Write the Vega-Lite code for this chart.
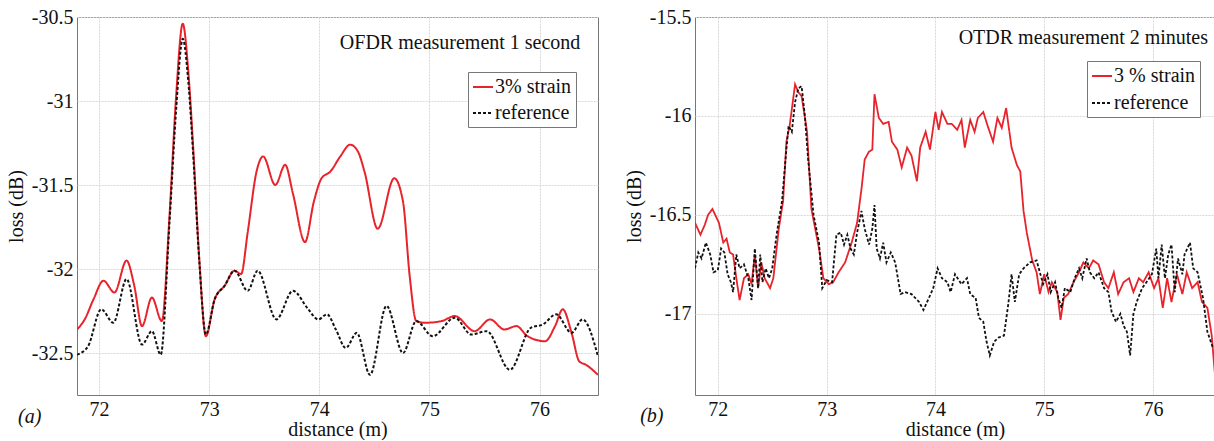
{
  "$schema": "https://vega.github.io/schema/vega-lite/v6.json",
  "padding": {"left": 5, "top": 6, "right": 0, "bottom": 0},
  "background": "white",
  "spacing": 24,
  "resolve": {"scale": {"color": "independent", "strokeDash": "independent", "x": "independent", "y": "independent"}, "legend": {"color": "independent", "strokeDash": "independent"}},
  "config": {
    "view": {"stroke": "#777", "strokeWidth": 1},
    "axis": {"labelFont": "serif", "labelFontSize": 20, "titleFont": "serif", "titleFontSize": 20, "titleFontWeight": "normal", "labelColor": "#111", "titleColor": "#111", "gridColor": "#d8d8d8", "gridDash": [2, 1], "domain": false, "ticks": false},
    "axisY": {"labelPadding": 4, "titlePadding": 5},
    "axisX": {"labelPadding": 4, "titlePadding": 0}
  },
  "datasets": {
    "ofdr": [
      {"d":71.80,"loss":-32.36,"s":"3% strain"},{"d":71.87,"loss":-32.30,"s":"3% strain"},{"d":71.95,"loss":-32.18,"s":"3% strain"},{"d":72.04,"loss":-32.07,"s":"3% strain"},{"d":72.14,"loss":-32.14,"s":"3% strain"},{"d":72.25,"loss":-31.95,"s":"3% strain"},{"d":72.32,"loss":-32.10,"s":"3% strain"},{"d":72.39,"loss":-32.34,"s":"3% strain"},{"d":72.48,"loss":-32.17,"s":"3% strain"},{"d":72.57,"loss":-32.31,"s":"3% strain"},{"d":72.64,"loss":-31.68,"s":"3% strain"},{"d":72.70,"loss":-30.97,"s":"3% strain"},{"d":72.76,"loss":-30.54,"s":"3% strain"},{"d":72.81,"loss":-30.82,"s":"3% strain"},{"d":72.855,"loss":-31.28,"s":"3% strain"},{"d":72.91,"loss":-31.94,"s":"3% strain"},{"d":72.97,"loss":-32.40,"s":"3% strain"},{"d":73.05,"loss":-32.18,"s":"3% strain"},{"d":73.14,"loss":-32.10,"s":"3% strain"},{"d":73.23,"loss":-32.01,"s":"3% strain"},{"d":73.29,"loss":-32.03,"s":"3% strain"},{"d":73.35,"loss":-31.78,"s":"3% strain"},{"d":73.43,"loss":-31.42,"s":"3% strain"},{"d":73.49,"loss":-31.33,"s":"3% strain"},{"d":73.60,"loss":-31.50,"s":"3% strain"},{"d":73.69,"loss":-31.38,"s":"3% strain"},{"d":73.76,"loss":-31.55,"s":"3% strain"},{"d":73.87,"loss":-31.84,"s":"3% strain"},{"d":73.95,"loss":-31.60,"s":"3% strain"},{"d":74.02,"loss":-31.46,"s":"3% strain"},{"d":74.10,"loss":-31.42,"s":"3% strain"},{"d":74.19,"loss":-31.33,"s":"3% strain"},{"d":74.28,"loss":-31.26,"s":"3% strain"},{"d":74.35,"loss":-31.30,"s":"3% strain"},{"d":74.41,"loss":-31.42,"s":"3% strain"},{"d":74.53,"loss":-31.76,"s":"3% strain"},{"d":74.68,"loss":-31.46,"s":"3% strain"},{"d":74.76,"loss":-31.60,"s":"3% strain"},{"d":74.82,"loss":-32.04,"s":"3% strain"},{"d":74.88,"loss":-32.31,"s":"3% strain"},{"d":74.96,"loss":-32.32,"s":"3% strain"},{"d":75.11,"loss":-32.31,"s":"3% strain"},{"d":75.23,"loss":-32.28,"s":"3% strain"},{"d":75.41,"loss":-32.37,"s":"3% strain"},{"d":75.55,"loss":-32.30,"s":"3% strain"},{"d":75.68,"loss":-32.36,"s":"3% strain"},{"d":75.79,"loss":-32.34,"s":"3% strain"},{"d":75.89,"loss":-32.40,"s":"3% strain"},{"d":76.05,"loss":-32.43,"s":"3% strain"},{"d":76.14,"loss":-32.34,"s":"3% strain"},{"d":76.21,"loss":-32.24,"s":"3% strain"},{"d":76.29,"loss":-32.38,"s":"3% strain"},{"d":76.36,"loss":-32.55,"s":"3% strain"},{"d":76.42,"loss":-32.57,"s":"3% strain"},{"d":76.53,"loss":-32.63,"s":"3% strain"},
      {"d":71.80,"loss":-32.51,"s":"reference"},{"d":71.90,"loss":-32.46,"s":"reference"},{"d":72.02,"loss":-32.24,"s":"reference"},{"d":72.13,"loss":-32.32,"s":"reference"},{"d":72.25,"loss":-32.06,"s":"reference"},{"d":72.39,"loss":-32.45,"s":"reference"},{"d":72.48,"loss":-32.37,"s":"reference"},{"d":72.56,"loss":-32.51,"s":"reference"},{"d":72.64,"loss":-31.72,"s":"reference"},{"d":72.70,"loss":-31.05,"s":"reference"},{"d":72.76,"loss":-30.63,"s":"reference"},{"d":72.81,"loss":-30.88,"s":"reference"},{"d":72.855,"loss":-31.32,"s":"reference"},{"d":72.91,"loss":-31.95,"s":"reference"},{"d":72.97,"loss":-32.39,"s":"reference"},{"d":73.05,"loss":-32.18,"s":"reference"},{"d":73.14,"loss":-32.10,"s":"reference"},{"d":73.23,"loss":-32.01,"s":"reference"},{"d":73.35,"loss":-32.13,"s":"reference"},{"d":73.44,"loss":-32.01,"s":"reference"},{"d":73.61,"loss":-32.30,"s":"reference"},{"d":73.76,"loss":-32.13,"s":"reference"},{"d":73.90,"loss":-32.24,"s":"reference"},{"d":73.99,"loss":-32.30,"s":"reference"},{"d":74.07,"loss":-32.27,"s":"reference"},{"d":74.15,"loss":-32.36,"s":"reference"},{"d":74.24,"loss":-32.47,"s":"reference"},{"d":74.34,"loss":-32.38,"s":"reference"},{"d":74.46,"loss":-32.63,"s":"reference"},{"d":74.61,"loss":-32.22,"s":"reference"},{"d":74.76,"loss":-32.50,"s":"reference"},{"d":74.88,"loss":-32.31,"s":"reference"},{"d":75.03,"loss":-32.40,"s":"reference"},{"d":75.23,"loss":-32.29,"s":"reference"},{"d":75.38,"loss":-32.39,"s":"reference"},{"d":75.52,"loss":-32.37,"s":"reference"},{"d":75.73,"loss":-32.60,"s":"reference"},{"d":75.92,"loss":-32.35,"s":"reference"},{"d":76.03,"loss":-32.33,"s":"reference"},{"d":76.15,"loss":-32.27,"s":"reference"},{"d":76.29,"loss":-32.38,"s":"reference"},{"d":76.39,"loss":-32.30,"s":"reference"},{"d":76.53,"loss":-32.52,"s":"reference"}
    ],
    "otdr": [
      {"d":71.79,"loss":-16.54,"s":"3 % strain"},{"d":71.84,"loss":-16.60,"s":"3 % strain"},{"d":71.88,"loss":-16.55,"s":"3 % strain"},{"d":71.91,"loss":-16.50,"s":"3 % strain"},{"d":71.95,"loss":-16.47,"s":"3 % strain"},{"d":72.01,"loss":-16.54,"s":"3 % strain"},{"d":72.05,"loss":-16.64,"s":"3 % strain"},{"d":72.08,"loss":-16.62,"s":"3 % strain"},{"d":72.11,"loss":-16.69,"s":"3 % strain"},{"d":72.14,"loss":-16.70,"s":"3 % strain"},{"d":72.17,"loss":-16.82,"s":"3 % strain"},{"d":72.20,"loss":-16.93,"s":"3 % strain"},{"d":72.24,"loss":-16.82,"s":"3 % strain"},{"d":72.28,"loss":-16.80,"s":"3 % strain"},{"d":72.31,"loss":-16.85,"s":"3 % strain"},{"d":72.34,"loss":-16.70,"s":"3 % strain"},{"d":72.37,"loss":-16.87,"s":"3 % strain"},{"d":72.40,"loss":-16.74,"s":"3 % strain"},{"d":72.43,"loss":-16.82,"s":"3 % strain"},{"d":72.48,"loss":-16.87,"s":"3 % strain"},{"d":72.51,"loss":-16.82,"s":"3 % strain"},{"d":72.56,"loss":-16.57,"s":"3 % strain"},{"d":72.60,"loss":-16.43,"s":"3 % strain"},{"d":72.63,"loss":-16.13,"s":"3 % strain"},{"d":72.66,"loss":-16.05,"s":"3 % strain"},{"d":72.71,"loss":-15.84,"s":"3 % strain"},{"d":72.74,"loss":-15.88,"s":"3 % strain"},{"d":72.77,"loss":-15.90,"s":"3 % strain"},{"d":72.82,"loss":-16.08,"s":"3 % strain"},{"d":72.86,"loss":-16.47,"s":"3 % strain"},{"d":72.93,"loss":-16.67,"s":"3 % strain"},{"d":72.97,"loss":-16.82,"s":"3 % strain"},{"d":73.02,"loss":-16.85,"s":"3 % strain"},{"d":73.06,"loss":-16.84,"s":"3 % strain"},{"d":73.11,"loss":-16.79,"s":"3 % strain"},{"d":73.17,"loss":-16.74,"s":"3 % strain"},{"d":73.23,"loss":-16.64,"s":"3 % strain"},{"d":73.28,"loss":-16.54,"s":"3 % strain"},{"d":73.32,"loss":-16.37,"s":"3 % strain"},{"d":73.35,"loss":-16.22,"s":"3 % strain"},{"d":73.39,"loss":-16.18,"s":"3 % strain"},{"d":73.42,"loss":-16.17,"s":"3 % strain"},{"d":73.44,"loss":-15.89,"s":"3 % strain"},{"d":73.48,"loss":-16.01,"s":"3 % strain"},{"d":73.52,"loss":-16.04,"s":"3 % strain"},{"d":73.57,"loss":-16.03,"s":"3 % strain"},{"d":73.60,"loss":-16.13,"s":"3 % strain"},{"d":73.65,"loss":-16.17,"s":"3 % strain"},{"d":73.69,"loss":-16.26,"s":"3 % strain"},{"d":73.74,"loss":-16.16,"s":"3 % strain"},{"d":73.78,"loss":-16.20,"s":"3 % strain"},{"d":73.83,"loss":-16.33,"s":"3 % strain"},{"d":73.86,"loss":-16.16,"s":"3 % strain"},{"d":73.91,"loss":-16.08,"s":"3 % strain"},{"d":73.95,"loss":-16.17,"s":"3 % strain"},{"d":74.00,"loss":-15.98,"s":"3 % strain"},{"d":74.03,"loss":-16.07,"s":"3 % strain"},{"d":74.06,"loss":-15.98,"s":"3 % strain"},{"d":74.11,"loss":-16.04,"s":"3 % strain"},{"d":74.15,"loss":-16.04,"s":"3 % strain"},{"d":74.20,"loss":-16.07,"s":"3 % strain"},{"d":74.24,"loss":-16.02,"s":"3 % strain"},{"d":74.27,"loss":-16.16,"s":"3 % strain"},{"d":74.32,"loss":-16.02,"s":"3 % strain"},{"d":74.36,"loss":-16.08,"s":"3 % strain"},{"d":74.39,"loss":-16.01,"s":"3 % strain"},{"d":74.44,"loss":-15.98,"s":"3 % strain"},{"d":74.48,"loss":-16.05,"s":"3 % strain"},{"d":74.53,"loss":-16.13,"s":"3 % strain"},{"d":74.57,"loss":-16.01,"s":"3 % strain"},{"d":74.61,"loss":-16.06,"s":"3 % strain"},{"d":74.65,"loss":-15.96,"s":"3 % strain"},{"d":74.70,"loss":-16.16,"s":"3 % strain"},{"d":74.75,"loss":-16.25,"s":"3 % strain"},{"d":74.78,"loss":-16.28,"s":"3 % strain"},{"d":74.81,"loss":-16.48,"s":"3 % strain"},{"d":74.84,"loss":-16.59,"s":"3 % strain"},{"d":74.89,"loss":-16.73,"s":"3 % strain"},{"d":74.93,"loss":-16.79,"s":"3 % strain"},{"d":74.96,"loss":-16.90,"s":"3 % strain"},{"d":75.00,"loss":-16.80,"s":"3 % strain"},{"d":75.04,"loss":-16.89,"s":"3 % strain"},{"d":75.07,"loss":-16.84,"s":"3 % strain"},{"d":75.12,"loss":-16.89,"s":"3 % strain"},{"d":75.15,"loss":-17.03,"s":"3 % strain"},{"d":75.18,"loss":-16.92,"s":"3 % strain"},{"d":75.22,"loss":-16.90,"s":"3 % strain"},{"d":75.27,"loss":-16.84,"s":"3 % strain"},{"d":75.32,"loss":-16.79,"s":"3 % strain"},{"d":75.36,"loss":-16.74,"s":"3 % strain"},{"d":75.41,"loss":-16.77,"s":"3 % strain"},{"d":75.45,"loss":-16.73,"s":"3 % strain"},{"d":75.50,"loss":-16.75,"s":"3 % strain"},{"d":75.55,"loss":-16.84,"s":"3 % strain"},{"d":75.59,"loss":-16.87,"s":"3 % strain"},{"d":75.64,"loss":-16.79,"s":"3 % strain"},{"d":75.68,"loss":-16.90,"s":"3 % strain"},{"d":75.73,"loss":-16.84,"s":"3 % strain"},{"d":75.78,"loss":-16.82,"s":"3 % strain"},{"d":75.82,"loss":-16.89,"s":"3 % strain"},{"d":75.87,"loss":-16.82,"s":"3 % strain"},{"d":75.91,"loss":-16.84,"s":"3 % strain"},{"d":75.96,"loss":-16.79,"s":"3 % strain"},{"d":76.01,"loss":-16.87,"s":"3 % strain"},{"d":76.05,"loss":-16.82,"s":"3 % strain"},{"d":76.09,"loss":-16.97,"s":"3 % strain"},{"d":76.13,"loss":-16.82,"s":"3 % strain"},{"d":76.17,"loss":-16.94,"s":"3 % strain"},{"d":76.22,"loss":-16.80,"s":"3 % strain"},{"d":76.27,"loss":-16.90,"s":"3 % strain"},{"d":76.31,"loss":-16.79,"s":"3 % strain"},{"d":76.36,"loss":-16.87,"s":"3 % strain"},{"d":76.41,"loss":-16.84,"s":"3 % strain"},{"d":76.45,"loss":-16.94,"s":"3 % strain"},{"d":76.50,"loss":-16.97,"s":"3 % strain"},{"d":76.54,"loss":-17.11,"s":"3 % strain"},{"d":76.57,"loss":-17.31,"s":"3 % strain"},
      {"d":71.79,"loss":-16.77,"s":"reference"},{"d":71.82,"loss":-16.69,"s":"reference"},{"d":71.85,"loss":-16.72,"s":"reference"},{"d":71.89,"loss":-16.64,"s":"reference"},{"d":71.93,"loss":-16.70,"s":"reference"},{"d":71.96,"loss":-16.79,"s":"reference"},{"d":72.00,"loss":-16.78,"s":"reference"},{"d":72.03,"loss":-16.67,"s":"reference"},{"d":72.06,"loss":-16.69,"s":"reference"},{"d":72.09,"loss":-16.80,"s":"reference"},{"d":72.12,"loss":-16.84,"s":"reference"},{"d":72.14,"loss":-16.89,"s":"reference"},{"d":72.17,"loss":-16.70,"s":"reference"},{"d":72.20,"loss":-16.77,"s":"reference"},{"d":72.24,"loss":-16.75,"s":"reference"},{"d":72.28,"loss":-16.82,"s":"reference"},{"d":72.31,"loss":-16.93,"s":"reference"},{"d":72.34,"loss":-16.67,"s":"reference"},{"d":72.37,"loss":-16.87,"s":"reference"},{"d":72.39,"loss":-16.70,"s":"reference"},{"d":72.41,"loss":-16.84,"s":"reference"},{"d":72.44,"loss":-16.77,"s":"reference"},{"d":72.47,"loss":-16.82,"s":"reference"},{"d":72.50,"loss":-16.77,"s":"reference"},{"d":72.54,"loss":-16.60,"s":"reference"},{"d":72.59,"loss":-16.43,"s":"reference"},{"d":72.63,"loss":-16.17,"s":"reference"},{"d":72.65,"loss":-16.05,"s":"reference"},{"d":72.68,"loss":-16.08,"s":"reference"},{"d":72.71,"loss":-15.93,"s":"reference"},{"d":72.74,"loss":-15.86,"s":"reference"},{"d":72.77,"loss":-15.85,"s":"reference"},{"d":72.80,"loss":-16.00,"s":"reference"},{"d":72.83,"loss":-16.22,"s":"reference"},{"d":72.88,"loss":-16.50,"s":"reference"},{"d":72.93,"loss":-16.64,"s":"reference"},{"d":72.96,"loss":-16.87,"s":"reference"},{"d":73.00,"loss":-16.83,"s":"reference"},{"d":73.05,"loss":-16.84,"s":"reference"},{"d":73.09,"loss":-16.60,"s":"reference"},{"d":73.13,"loss":-16.59,"s":"reference"},{"d":73.16,"loss":-16.65,"s":"reference"},{"d":73.19,"loss":-16.60,"s":"reference"},{"d":73.22,"loss":-16.67,"s":"reference"},{"d":73.25,"loss":-16.70,"s":"reference"},{"d":73.28,"loss":-16.59,"s":"reference"},{"d":73.32,"loss":-16.48,"s":"reference"},{"d":73.35,"loss":-16.57,"s":"reference"},{"d":73.39,"loss":-16.65,"s":"reference"},{"d":73.42,"loss":-16.57,"s":"reference"},{"d":73.44,"loss":-16.45,"s":"reference"},{"d":73.46,"loss":-16.67,"s":"reference"},{"d":73.49,"loss":-16.72,"s":"reference"},{"d":73.52,"loss":-16.64,"s":"reference"},{"d":73.55,"loss":-16.74,"s":"reference"},{"d":73.59,"loss":-16.69,"s":"reference"},{"d":73.63,"loss":-16.74,"s":"reference"},{"d":73.68,"loss":-16.90,"s":"reference"},{"d":73.72,"loss":-16.89,"s":"reference"},{"d":73.78,"loss":-16.90,"s":"reference"},{"d":73.85,"loss":-16.94,"s":"reference"},{"d":73.89,"loss":-16.98,"s":"reference"},{"d":73.94,"loss":-16.92,"s":"reference"},{"d":73.98,"loss":-16.87,"s":"reference"},{"d":74.02,"loss":-16.77,"s":"reference"},{"d":74.06,"loss":-16.82,"s":"reference"},{"d":74.11,"loss":-16.84,"s":"reference"},{"d":74.14,"loss":-16.89,"s":"reference"},{"d":74.18,"loss":-16.80,"s":"reference"},{"d":74.24,"loss":-16.85,"s":"reference"},{"d":74.29,"loss":-16.82,"s":"reference"},{"d":74.32,"loss":-16.90,"s":"reference"},{"d":74.37,"loss":-16.92,"s":"reference"},{"d":74.40,"loss":-17.02,"s":"reference"},{"d":74.44,"loss":-17.04,"s":"reference"},{"d":74.47,"loss":-17.14,"s":"reference"},{"d":74.50,"loss":-17.21,"s":"reference"},{"d":74.54,"loss":-17.14,"s":"reference"},{"d":74.58,"loss":-17.12,"s":"reference"},{"d":74.63,"loss":-17.11,"s":"reference"},{"d":74.67,"loss":-16.95,"s":"reference"},{"d":74.70,"loss":-16.80,"s":"reference"},{"d":74.73,"loss":-16.94,"s":"reference"},{"d":74.77,"loss":-16.80,"s":"reference"},{"d":74.81,"loss":-16.77,"s":"reference"},{"d":74.87,"loss":-16.74,"s":"reference"},{"d":74.93,"loss":-16.73,"s":"reference"},{"d":74.96,"loss":-16.79,"s":"reference"},{"d":74.99,"loss":-16.85,"s":"reference"},{"d":75.03,"loss":-16.80,"s":"reference"},{"d":75.06,"loss":-16.89,"s":"reference"},{"d":75.10,"loss":-16.84,"s":"reference"},{"d":75.13,"loss":-16.92,"s":"reference"},{"d":75.16,"loss":-16.97,"s":"reference"},{"d":75.19,"loss":-16.87,"s":"reference"},{"d":75.24,"loss":-16.89,"s":"reference"},{"d":75.28,"loss":-16.82,"s":"reference"},{"d":75.32,"loss":-16.77,"s":"reference"},{"d":75.35,"loss":-16.82,"s":"reference"},{"d":75.39,"loss":-16.72,"s":"reference"},{"d":75.42,"loss":-16.79,"s":"reference"},{"d":75.46,"loss":-16.82,"s":"reference"},{"d":75.50,"loss":-16.79,"s":"reference"},{"d":75.55,"loss":-16.87,"s":"reference"},{"d":75.59,"loss":-16.89,"s":"reference"},{"d":75.62,"loss":-16.99,"s":"reference"},{"d":75.66,"loss":-17.04,"s":"reference"},{"d":75.70,"loss":-17.00,"s":"reference"},{"d":75.73,"loss":-17.06,"s":"reference"},{"d":75.76,"loss":-17.09,"s":"reference"},{"d":75.79,"loss":-17.21,"s":"reference"},{"d":75.82,"loss":-17.00,"s":"reference"},{"d":75.85,"loss":-16.94,"s":"reference"},{"d":75.90,"loss":-16.87,"s":"reference"},{"d":75.94,"loss":-16.84,"s":"reference"},{"d":75.99,"loss":-16.80,"s":"reference"},{"d":76.03,"loss":-16.67,"s":"reference"},{"d":76.05,"loss":-16.82,"s":"reference"},{"d":76.08,"loss":-16.65,"s":"reference"},{"d":76.11,"loss":-16.82,"s":"reference"},{"d":76.14,"loss":-16.70,"s":"reference"},{"d":76.17,"loss":-16.65,"s":"reference"},{"d":76.20,"loss":-16.89,"s":"reference"},{"d":76.23,"loss":-16.72,"s":"reference"},{"d":76.27,"loss":-16.80,"s":"reference"},{"d":76.29,"loss":-16.70,"s":"reference"},{"d":76.34,"loss":-16.64,"s":"reference"},{"d":76.37,"loss":-16.77,"s":"reference"},{"d":76.41,"loss":-16.79,"s":"reference"},{"d":76.46,"loss":-16.92,"s":"reference"},{"d":76.50,"loss":-17.09,"s":"reference"},{"d":76.55,"loss":-17.17,"s":"reference"}
    ]
  },
  "hconcat": [
    {
      "width": 521,
      "height": 378,
      "layer": [
        {
          "data": {"name": "ofdr"},
          "mark": {"type": "line", "interpolate": "monotone", "strokeWidth": 2, "clip": true},
          "encoding": {
            "x": {"field": "d", "type": "quantitative", "scale": {"domain": [71.8, 76.53], "nice": false, "zero": false}, "axis": {"title": "distance (m)", "values": [72, 73, 74, 75, 76], "labelExpr": "datum.value + ''"}},
            "y": {"field": "loss", "type": "quantitative", "scale": {"domain": [-32.75, -30.5], "nice": false, "zero": false}, "axis": {"title": "loss (dB)", "values": [-30.5, -31, -31.5, -32, -32.5], "labelExpr": "datum.value + ''"}},
            "color": {"field": "s", "type": "nominal", "scale": {"domain": ["3% strain", "reference"], "range": ["#e8232b", "#111111"]},
              "legend": {"orient": "none", "legendX": 391, "legendY": 55, "title": null, "symbolType": "stroke", "symbolSize": 400, "symbolStrokeWidth": 1.8, "labelFont": "serif", "labelFontSize": 20, "labelColor": "#111", "strokeColor": "#777", "fillColor": "white", "padding": 4, "rowPadding": 5, "labelOffset": 1, "labelLimit": 300}},
            "strokeDash": {"field": "s", "type": "nominal", "scale": {"domain": ["3% strain", "reference"], "range": [[1, 0], [3, 2]]},
              "legend": {"orient": "none", "legendX": 391, "legendY": 55, "title": null, "symbolType": "stroke", "symbolSize": 400, "symbolStrokeWidth": 1.8, "labelFont": "serif", "labelFontSize": 20, "labelColor": "#111", "strokeColor": "#777", "fillColor": "white", "padding": 4, "rowPadding": 5, "labelOffset": 1, "labelLimit": 300}}
          }
        },
        {
          "data": {"values": [{}]},
          "mark": {"type": "text", "align": "right", "baseline": "middle", "font": "serif", "fontSize": 20, "color": "#111"},
          "encoding": {"x": {"datum": 76.37, "type": "quantitative"}, "y": {"datum": -30.657, "type": "quantitative"}, "text": {"value": "OFDR measurement 1 second"}}
        },
        {
          "data": {"values": [{}]},
          "mark": {"type": "text", "align": "center", "baseline": "middle", "font": "serif", "fontSize": 20, "fontStyle": "italic", "color": "#111"},
          "encoding": {"x": {"datum": 71.37, "type": "quantitative"}, "y": {"datum": -32.88, "type": "quantitative"}, "text": {"value": "(a)"}}
        }
      ]
    },
    {
      "width": 520,
      "height": 378,
      "layer": [
        {
          "data": {"name": "otdr"},
          "mark": {"type": "line", "interpolate": "linear", "strokeWidth": 1.8, "clip": true},
          "encoding": {
            "x": {"field": "d", "type": "quantitative", "scale": {"domain": [71.79, 76.57], "nice": false, "zero": false}, "axis": {"title": "distance (m)", "values": [72, 73, 74, 75, 76], "labelExpr": "datum.value + ''"}},
            "y": {"field": "loss", "type": "quantitative", "scale": {"domain": [-17.41, -15.5], "nice": false, "zero": false}, "axis": {"title": "loss (dB)", "values": [-15.5, -16, -16.5, -17], "labelExpr": "datum.value + ''"}},
            "color": {"field": "s", "type": "nominal", "scale": {"domain": ["3 % strain", "reference"], "range": ["#e8232b", "#111111"]},
              "legend": {"orient": "none", "legendX": 392, "legendY": 44, "title": null, "symbolType": "stroke", "symbolSize": 400, "symbolStrokeWidth": 1.8, "labelFont": "serif", "labelFontSize": 20, "labelColor": "#111", "strokeColor": "#777", "fillColor": "white", "padding": 4, "rowPadding": 6, "labelOffset": 1, "labelLimit": 300}},
            "strokeDash": {"field": "s", "type": "nominal", "scale": {"domain": ["3 % strain", "reference"], "range": [[1, 0], [3, 2]]},
              "legend": {"orient": "none", "legendX": 392, "legendY": 44, "title": null, "symbolType": "stroke", "symbolSize": 400, "symbolStrokeWidth": 1.8, "labelFont": "serif", "labelFontSize": 20, "labelColor": "#111", "strokeColor": "#777", "fillColor": "white", "padding": 4, "rowPadding": 6, "labelOffset": 1, "labelLimit": 300}}
          }
        },
        {
          "data": {"values": [{}]},
          "mark": {"type": "text", "align": "right", "baseline": "middle", "font": "serif", "fontSize": 20, "color": "#111"},
          "encoding": {"x": {"datum": 76.506, "type": "quantitative"}, "y": {"datum": -15.604, "type": "quantitative"}, "text": {"value": "OTDR measurement 2 minutes"}}
        },
        {
          "data": {"values": [{}]},
          "mark": {"type": "text", "align": "center", "baseline": "middle", "font": "serif", "fontSize": 20, "fontStyle": "italic", "color": "#111"},
          "encoding": {"x": {"datum": 71.393, "type": "quantitative"}, "y": {"datum": -17.516, "type": "quantitative"}, "text": {"value": "(b)"}}
        }
      ]
    }
  ]
}
